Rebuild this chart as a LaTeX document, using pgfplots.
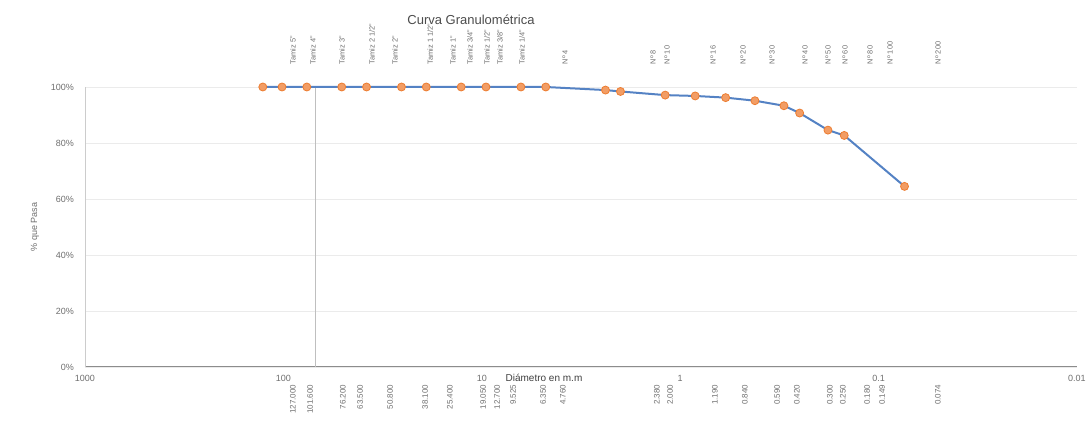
\documentclass[border=0pt]{standalone}
\usepackage{pgfplots}
\pgfplotsset{compat=1.18}
\usepackage{fontspec}
\setmainfont{Liberation Sans}
\definecolor{lineblue}{RGB}{84,130,196}
\definecolor{markor}{RGB}{237,125,49}
\definecolor{lbl}{RGB}{110,110,110}
\begin{document}
\begin{tikzpicture}
\useasboundingbox (0,0) rectangle (544pt,210.5pt);
\begin{axis}[
 at={(42.5pt,27pt)}, anchor=south west,
 scale only axis, width=496pt, height=140pt,
 xmode=log, log basis x=10, x dir=reverse, xmin=0.01, xmax=1000,
 ymin=0, ymax=100, clip=false,
 xtick={1000,100,10,1,0.1,0.01}, xticklabels={1000,100,10,1,0.1,0.01},
 ytick={0,20,40,60,80,100}, yticklabels={0\%,20\%,40\%,60\%,80\%,100\%},
 major tick length=0pt, minor tick length=0pt,
 ymajorgrids, grid style={black!8, line width=0.4pt},
 axis line style={draw=none},
 tick label style={font=\fontsize{4.5}{5}\selectfont, text=lbl},
 xticklabel style={yshift=-0.5pt},
 yticklabel style={xshift=-2pt},
]
% axis lines
\addplot[black!45, line width=0.5pt] coordinates {(1000,0) (0.01,0)};
\addplot[black!20, line width=0.4pt] coordinates {(1000,0) (1000,100)};
\addplot[black!25, line width=0.4pt] coordinates {(69.3,0) (69.3,100)};
% top sieve labels
\addplot[draw=none, point meta=explicit symbolic, nodes near coords,
 nodes near coords style={font=\fontsize{3.7}{4.2}\selectfont, text=lbl, rotate=90, anchor=west, inner sep=0pt}]
 coordinates {
 (89.5,108) [Tamiz 5"]
 (70.9,108) [Tamiz 4"]
 (50.66,108) [Tamiz 3"]
 (35.8,108) [Tamiz 2 1/2"]
 (27.4,108) [Tamiz 2"]
 (18.2,108) [Tamiz 1 1/2"]
 (13.97,108) [Tamiz 1"]
 (11.47,108) [Tamiz 3/4"]
 (9.41,108) [Tamiz 1/2"]
 (8.09,108) [Tamiz 3/8"]
 (6.27,108) [Tamiz 1/4"]
 (3.81,108) [Nº 4]
 (1.371,108) [Nº 8]
 (1.166,108) [Nº 10]
 (0.6835,108) [Nº 16]
 (0.4826,108) [Nº 20]
 (0.3446,108) [Nº 30]
 (0.2350,108) [Nº 40]
 (0.1799,108) [Nº 50]
 (0.1477,108) [Nº 60]
 (0.1105,108) [Nº 80]
 (0.0876,108) [Nº 100]
 (0.0502,108) [Nº 200]
 };
% bottom diameter labels
\addplot[draw=none, point meta=explicit symbolic, nodes near coords,
 nodes near coords style={font=\fontsize{4}{5}\selectfont, text=lbl, rotate=90, anchor=east, inner sep=0pt}]
 coordinates {
 (89.5,-6.2) [127.000]
 (73.4,-6.2) [101.600]
 (50.1,-6.2) [76.200]
 (41.1,-6.2) [63.500]
 (29.0,-6.2) [50.800]
 (19.3,-6.2) [38.100]
 (14.5,-6.2) [25.400]
 (9.86,-6.2) [19.050]
 (8.38,-6.2) [12.700]
 (6.96,-6.2) [9.525]
 (4.91,-6.2) [6.350]
 (3.90,-6.2) [4.760]
 (1.309,-6.2) [2.380]
 (1.125,-6.2) [2.000]
 (0.668,-6.2) [1.190]
 (0.4715,-6.2) [0.840]
 (0.3251,-6.2) [0.590]
 (0.2578,-6.2) [0.420]
 (0.1758,-6.2) [0.300]
 (0.1512,-6.2) [0.250]
 (0.1144,-6.2) [0.180]
 (0.0961,-6.2) [0.149]
 (0.0502,-6.2) [0.074]
 };
% grading curve
\addplot[lineblue, line width=1pt, mark=*, mark size=2pt,
 mark options={draw=markor, fill=markor!75!white, line width=0.4pt}]
 coordinates {
 (127,100) (101.6,100) (76.2,100) (50.8,100) (38.1,100) (25.4,100)
 (19.05,100) (12.7,100) (9.525,100) (6.35,100) (4.76,100)
 (2.38,98.9) (2.0,98.4) (1.19,97.1) (0.84,96.8) (0.59,96.2)
 (0.42,95.1) (0.3,93.3) (0.25,90.7) (0.18,84.6) (0.149,82.7) (0.074,64.5)
 };
\end{axis}
\node[font=\fontsize{6.5}{7}\selectfont, text=black!70] at (235.5pt,200.5pt) {Curva Granulométrica};
\node[font=\fontsize{5}{6}\selectfont, text=black!75] at (272pt,21.5pt) {Diámetro en m.m};
\node[rotate=90, font=\fontsize{4.5}{5}\selectfont, text=lbl] at (17.5pt,97pt) {\% que Pasa};
\end{tikzpicture}
\end{document}
